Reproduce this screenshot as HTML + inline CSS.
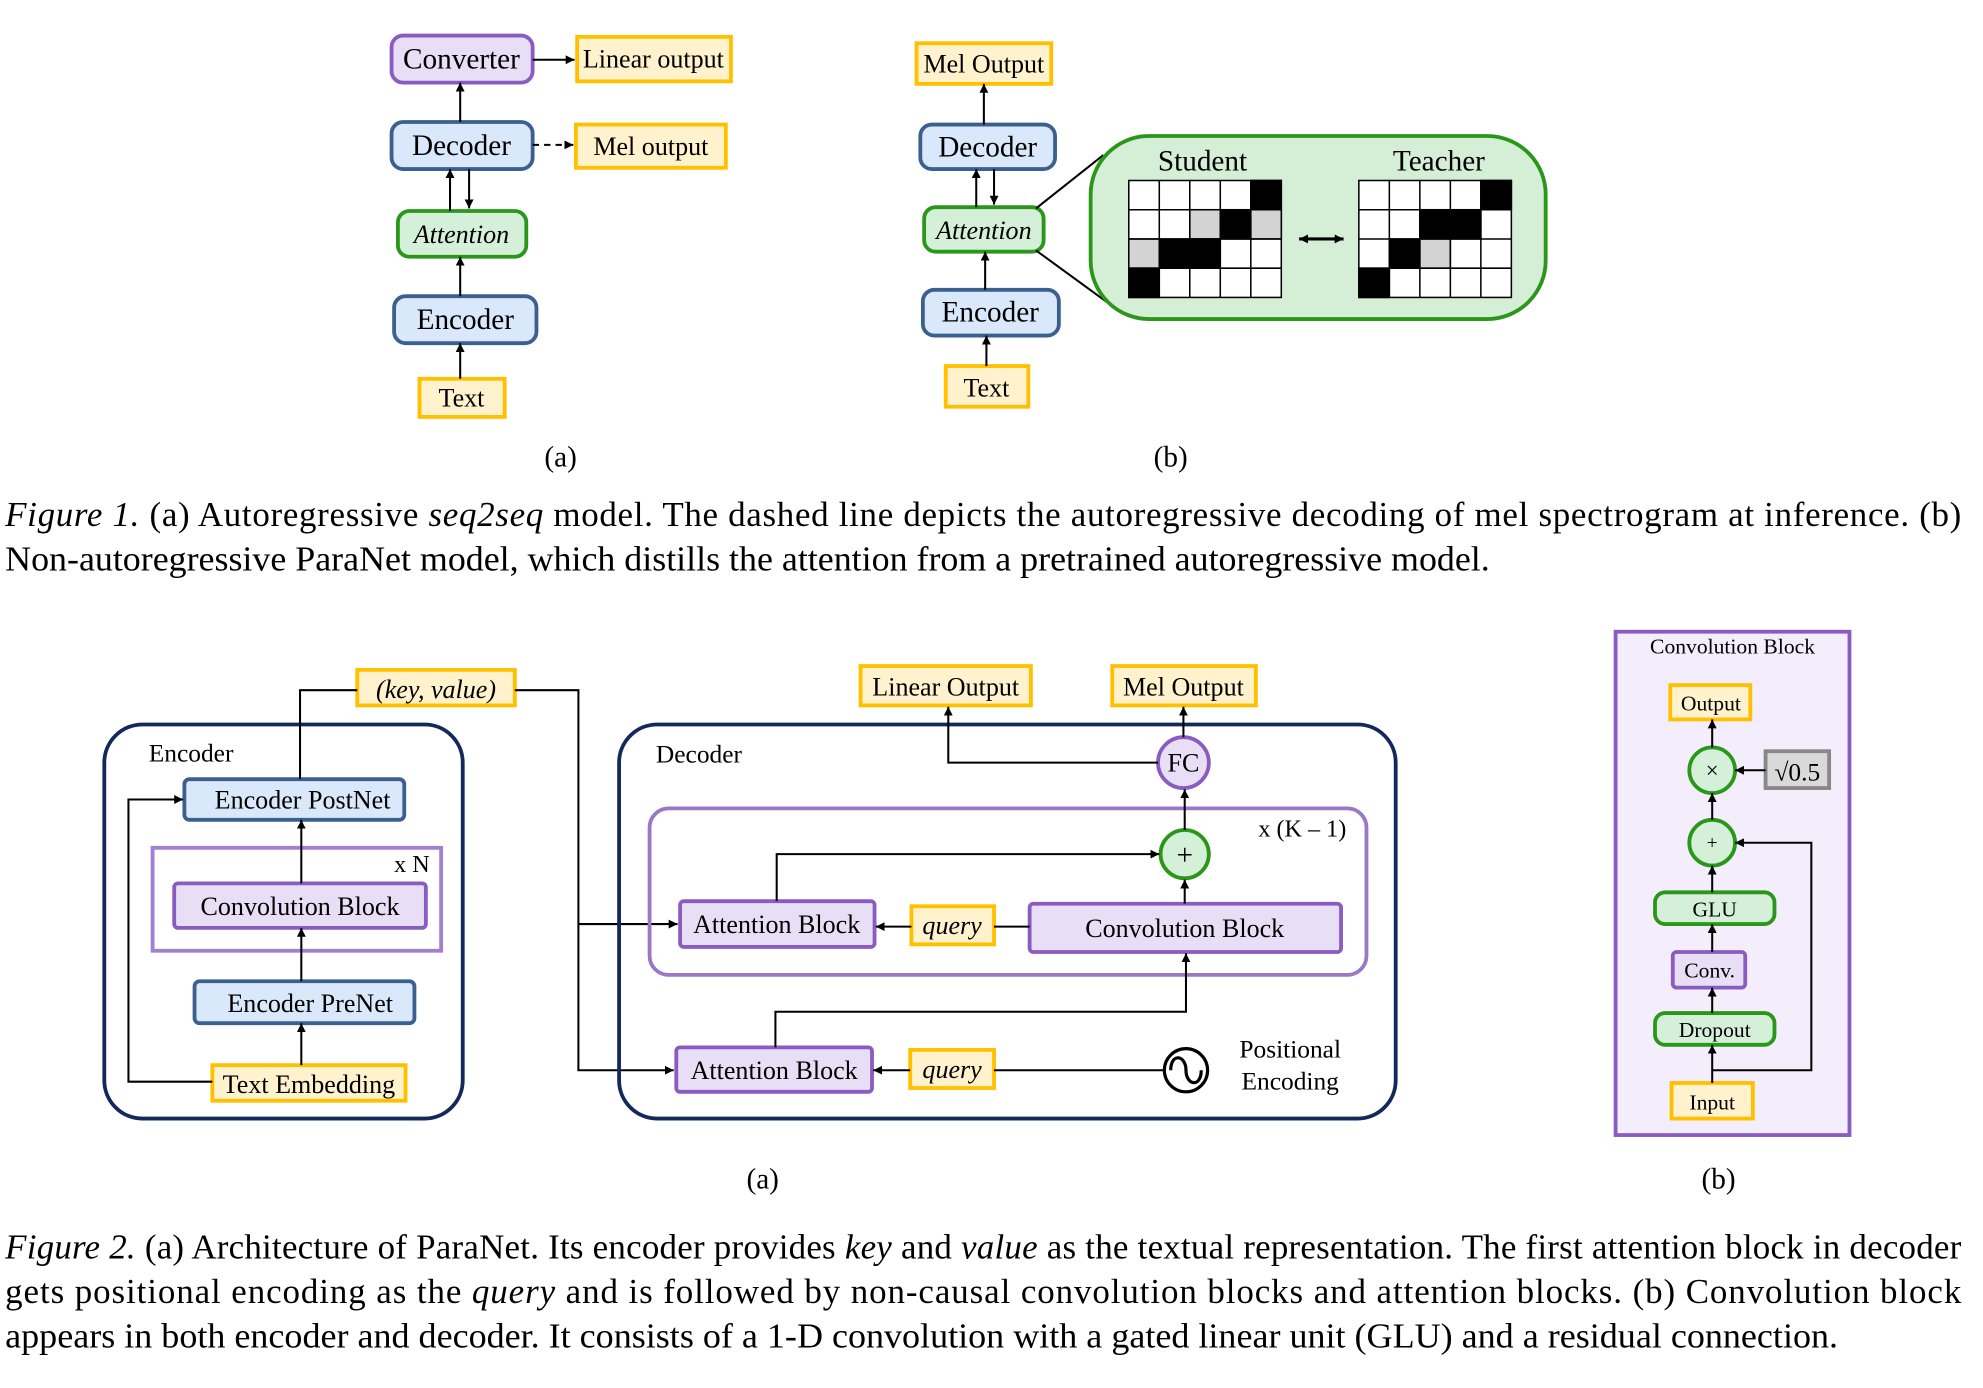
<!DOCTYPE html>
<html><head><meta charset="utf-8"><style>
html,body{margin:0;padding:0;background:#fff;}
svg{display:block;}
text{font-family:"Liberation Serif",serif;fill:#000;}
</style></head><body>
<svg width="1983" height="1388" viewBox="0 0 1560 1092" xmlns="http://www.w3.org/2000/svg">
<defs>
<marker id="a" viewBox="0 0 10 10" refX="10" refY="5" markerWidth="7" markerHeight="7" orient="auto-start-reverse" markerUnits="userSpaceOnUse"><path d="M0,0L10,5L0,10z" fill="#000"/></marker>
</defs>
<style>
.y{fill:#fff2cc;stroke:#ffc000;stroke-width:3}
.b{fill:#dae8fc;stroke:#3b5f8f;stroke-width:3}
.p{fill:#e8def5;stroke:#8a5cc2;stroke-width:3}
.g{fill:#d5f0d8;stroke:#2a961a;stroke-width:3}
.l{stroke:#000;stroke-width:1.6;fill:none}
.t{font-size:23px;text-anchor:middle}
.s{font-size:20.5px;text-anchor:middle}
.c{font-size:17px;text-anchor:middle}
</style>

<!-- Fig 1a -->
<rect class="p" x="308" y="28" width="111" height="37" rx="9"/><text class="t" x="363" y="54">Converter</text>
<rect class="y" x="454" y="29" width="121" height="35"/><text class="s" x="514" y="53">Linear output</text>
<line class="l" x1="419" y1="47" x2="452" y2="47" marker-end="url(#a)"/>
<rect class="b" x="308" y="96" width="111" height="37" rx="9"/><text class="t" x="363" y="122">Decoder</text>
<rect class="y" x="453" y="98" width="118" height="34"/><text class="s" x="512" y="122">Mel output</text>
<line class="l" x1="419" y1="114" x2="451" y2="114" stroke-dasharray="5,4" marker-end="url(#a)"/>
<line class="l" x1="362" y1="96" x2="362" y2="65" marker-end="url(#a)"/>
<rect class="g" x="313" y="166" width="101" height="36" rx="9"/><text class="s" x="363" y="191" font-style="italic">Attention</text>
<line class="l" x1="354" y1="166" x2="354" y2="133" marker-end="url(#a)"/>
<line class="l" x1="369" y1="133" x2="369" y2="164" marker-end="url(#a)"/>
<rect class="b" x="310" y="233" width="112" height="37" rx="9"/><text class="t" x="366" y="259">Encoder</text>
<line class="l" x1="362" y1="233" x2="362" y2="202" marker-end="url(#a)"/>
<rect class="y" x="330" y="298" width="67" height="30"/><text class="s" x="363" y="320">Text</text>
<line class="l" x1="362" y1="298" x2="362" y2="270" marker-end="url(#a)"/>
<text class="t" x="441" y="367">(a)</text>

<!-- Fig 1b -->
<rect class="y" x="721" y="34" width="106" height="32"/><text class="s" x="774" y="57">Mel Output</text>
<rect class="b" x="724" y="98" width="106" height="35" rx="9"/><text class="t" x="777" y="123">Decoder</text>
<rect class="g" x="727" y="163" width="94" height="35" rx="9"/><text class="s" x="774" y="188" font-style="italic">Attention</text>
<rect class="b" x="726" y="228" width="107" height="36" rx="9"/><text class="t" x="779" y="253">Encoder</text>
<rect class="y" x="744" y="288" width="65" height="32"/><text class="s" x="776" y="312">Text</text>
<line class="l" x1="774" y1="98" x2="774" y2="66" marker-end="url(#a)"/>
<line class="l" x1="768" y1="163" x2="768" y2="133" marker-end="url(#a)"/>
<line class="l" x1="782" y1="133" x2="782" y2="161" marker-end="url(#a)"/>
<line class="l" x1="775" y1="228" x2="775" y2="198" marker-end="url(#a)"/>
<line class="l" x1="776" y1="288" x2="776" y2="264" marker-end="url(#a)"/>
<line class="l" x1="815" y1="164" x2="868" y2="122"/>
<line class="l" x1="815" y1="197" x2="874" y2="240"/>
<rect x="858" y="107" width="358" height="144" rx="46" fill="#d5eed6" stroke="#2a961a" stroke-width="3"/>
<text class="t" x="946" y="134">Student</text><text class="t" x="1132" y="134">Teacher</text>
<g stroke="#000" stroke-width="1.2">
<g transform="translate(888,142)">
<rect x="0" y="0" width="120" height="92" fill="#fff"/>
<rect x="96" y="0" width="24" height="23" fill="#000"/>
<rect x="48" y="23" width="24" height="23" fill="#d3d3d3"/><rect x="72" y="23" width="24" height="23" fill="#000"/><rect x="96" y="23" width="24" height="23" fill="#d3d3d3"/>
<rect x="0" y="46" width="24" height="23" fill="#d3d3d3"/><rect x="24" y="46" width="48" height="23" fill="#000"/>
<rect x="0" y="69" width="24" height="23" fill="#000"/>
<path d="M24,0V92M48,0V92M72,0V92M96,0V92M0,23H120M0,46H120M0,69H120" fill="none"/>
</g>
<g transform="translate(1069,142)">
<rect x="0" y="0" width="120" height="92" fill="#fff"/>
<rect x="96" y="0" width="24" height="23" fill="#000"/>
<rect x="48" y="23" width="48" height="23" fill="#000"/>
<rect x="24" y="46" width="24" height="23" fill="#000"/><rect x="48" y="46" width="24" height="23" fill="#d3d3d3"/>
<rect x="0" y="69" width="24" height="23" fill="#000"/>
<path d="M24,0V92M48,0V92M72,0V92M96,0V92M0,23H120M0,46H120M0,69H120" fill="none"/>
</g>
</g>
<line x1="1022" y1="188" x2="1057" y2="188" stroke="#000" stroke-width="2.5" marker-start="url(#a)" marker-end="url(#a)"/>
<text class="t" x="921" y="367">(b)</text>

<!-- Caption 1 -->
<text x="4" y="414" font-size="27.5" textLength="1539" lengthAdjust="spacing"><tspan font-style="italic">Figure 1.</tspan> (a) Autoregressive <tspan font-style="italic">seq2seq</tspan> model. The dashed line depicts the autoregressive decoding of mel spectrogram at inference. (b)</text>
<text x="4" y="449" font-size="27.5" textLength="1168" lengthAdjust="spacingAndGlyphs">Non-autoregressive ParaNet model, which distills the attention from a pretrained autoregressive model.</text>

<!-- Fig 2a encoder -->
<rect x="82" y="570" width="282" height="310" rx="30" fill="none" stroke="#14285c" stroke-width="3"/>
<text x="117" y="599" font-size="20">Encoder</text>
<rect class="b" x="145" y="613" width="173" height="32" rx="4"/><text class="s" x="238" y="636">Encoder PostNet</text>
<rect x="120" y="667" width="227" height="81" fill="none" stroke="#a27fd0" stroke-width="3"/>
<text x="310" y="686" font-size="19">x N</text>
<rect class="p" x="137" y="695" width="198" height="35" rx="3"/><text class="s" x="236" y="720">Convolution Block</text>
<rect class="b" x="153" y="772" width="173" height="33" rx="4"/><text class="s" x="244" y="796">Encoder PreNet</text>
<rect class="y" x="167" y="838" width="152" height="28"/><text class="s" x="243" y="860">Text Embedding</text>
<line class="l" x1="237" y1="838" x2="237" y2="805" marker-end="url(#a)"/>
<line class="l" x1="237" y1="772" x2="237" y2="730" marker-end="url(#a)"/>
<line class="l" x1="237" y1="695" x2="237" y2="645" marker-end="url(#a)"/>
<polyline class="l" points="167,851 101,851 101,629 144,629" marker-end="url(#a)"/>
<rect class="y" x="281" y="527" width="124" height="28"/><text class="s" x="343" y="549" font-style="italic">(key, value)</text>
<polyline class="l" points="236,613 236,543 281,543"/>
<polyline class="l" points="405,543 455,543 455,842 530,842" marker-end="url(#a)"/>
<line class="l" x1="455" y1="727" x2="533" y2="727" marker-end="url(#a)"/>

<!-- Decoder -->
<rect x="487" y="570" width="611" height="310" rx="30" fill="none" stroke="#14285c" stroke-width="3"/>
<text x="516" y="600" font-size="20">Decoder</text>
<rect x="511" y="636" width="564" height="131" rx="15" fill="none" stroke="#9c78c4" stroke-width="3"/>
<text x="990" y="658" font-size="19">x (K – 1)</text>
<rect class="y" x="677" y="524" width="134" height="31"/><text class="s" x="744" y="547">Linear Output</text>
<rect class="y" x="875" y="524" width="113" height="31"/><text class="s" x="931" y="547">Mel Output</text>
<circle cx="931" cy="600" r="20" fill="#e8def5" stroke="#8a5cc2" stroke-width="3"/><text class="s" x="931" y="607">FC</text>
<circle cx="932" cy="672" r="19" fill="#d5f0d8" stroke="#2a961a" stroke-width="3"/><text class="t" x="932" y="680">+</text>
<rect class="p" x="535" y="709" width="153" height="36" rx="3"/><text class="s" x="611" y="734">Attention Block</text>
<rect class="y" x="717" y="713" width="65" height="30"/><text class="s" x="749" y="735" font-style="italic">query</text>
<rect class="p" x="810" y="711" width="245" height="38" rx="3"/><text class="s" x="932" y="737">Convolution Block</text>
<rect class="p" x="532" y="824" width="154" height="35" rx="3"/><text class="s" x="609" y="849">Attention Block</text>
<rect class="y" x="716" y="826" width="66" height="30"/><text class="s" x="749" y="848" font-style="italic">query</text>
<circle cx="933" cy="842" r="17" fill="#fff" stroke="#000" stroke-width="2.5"/>
<path d="M921,842 C921,828 933,830 933,842 C933,854 945,856 945,842" fill="none" stroke="#000" stroke-width="2.5"/>
<text x="1015" y="832" font-size="20" text-anchor="middle">Positional</text>
<text x="1015" y="857" font-size="20" text-anchor="middle">Encoding</text>
<line class="l" x1="810" y1="729" x2="782" y2="729"/>
<line class="l" x1="717" y1="729" x2="689" y2="729" marker-end="url(#a)"/>
<polyline class="l" points="611,709 611,672 912,672" marker-end="url(#a)"/>
<line class="l" x1="932" y1="711" x2="932" y2="692" marker-end="url(#a)"/>
<line class="l" x1="932" y1="653" x2="932" y2="621" marker-end="url(#a)"/>
<line class="l" x1="931" y1="580" x2="931" y2="556" marker-end="url(#a)"/>
<polyline class="l" points="911,600 746,600 746,556" marker-end="url(#a)"/>
<polyline class="l" points="610,824 610,796 933,796 933,750" marker-end="url(#a)"/>
<line class="l" x1="916" y1="842" x2="782" y2="842"/>
<line class="l" x1="716" y1="842" x2="687" y2="842" marker-end="url(#a)"/>
<text class="t" x="600" y="935">(a)</text>

<!-- Fig 2b -->
<rect x="1271" y="497" width="184" height="396" fill="#f4eefc" stroke="#8a5cc2" stroke-width="3"/>
<text class="c" x="1363" y="514">Convolution Block</text>
<rect class="y" x="1314" y="539" width="63" height="27"/><text class="c" x="1346" y="559">Output</text>
<circle cx="1347" cy="606" r="18" fill="#d5f0d8" stroke="#2a961a" stroke-width="3"/><text x="1347" y="612" font-size="18" text-anchor="middle">×</text>
<rect x="1389" y="591" width="50" height="29" fill="#d9d9d9" stroke="#888" stroke-width="3"/><text x="1414" y="614" font-size="20" text-anchor="middle">√0.5</text>
<circle cx="1347" cy="663" r="18" fill="#d5f0d8" stroke="#2a961a" stroke-width="3"/><text x="1347" y="668" font-size="15" text-anchor="middle">+</text>
<rect class="g" x="1302" y="702" width="94" height="25" rx="8"/><text class="c" x="1349" y="721">GLU</text>
<rect class="p" x="1316" y="749" width="57" height="28" rx="3"/><text class="c" x="1345" y="769">Conv.</text>
<rect class="g" x="1302" y="797" width="94" height="25" rx="8"/><text class="c" x="1349" y="816">Dropout</text>
<rect class="y" x="1315" y="852" width="64" height="28"/><text class="c" x="1347" y="873">Input</text>
<line class="l" x1="1347" y1="852" x2="1347" y2="822" marker-end="url(#a)"/>
<line class="l" x1="1347" y1="797" x2="1347" y2="777" marker-end="url(#a)"/>
<line class="l" x1="1347" y1="749" x2="1347" y2="727" marker-end="url(#a)"/>
<line class="l" x1="1347" y1="702" x2="1347" y2="681" marker-end="url(#a)"/>
<line class="l" x1="1347" y1="645" x2="1347" y2="624" marker-end="url(#a)"/>
<line class="l" x1="1347" y1="588" x2="1347" y2="566" marker-end="url(#a)"/>
<line class="l" x1="1389" y1="606" x2="1365" y2="606" marker-end="url(#a)"/>
<polyline class="l" points="1347,842 1425,842 1425,663 1365,663" marker-end="url(#a)"/>
<text class="t" x="1352" y="935">(b)</text>

<!-- Caption 2 -->
<text x="4" y="990" font-size="27.5" textLength="1539" lengthAdjust="spacing"><tspan font-style="italic">Figure 2.</tspan> (a) Architecture of ParaNet. Its encoder provides <tspan font-style="italic">key</tspan> and <tspan font-style="italic">value</tspan> as the textual representation. The first attention block in decoder</text>
<text x="4" y="1025" font-size="27.5" textLength="1539" lengthAdjust="spacing">gets positional encoding as the <tspan font-style="italic">query</tspan> and is followed by non-causal convolution blocks and attention blocks.  (b) Convolution block</text>
<text x="4" y="1060" font-size="27.5" textLength="1442" lengthAdjust="spacingAndGlyphs">appears in both encoder and decoder. It consists of a 1-D convolution with a gated linear unit (GLU) and a residual connection.</text>
</svg>
</body></html>
